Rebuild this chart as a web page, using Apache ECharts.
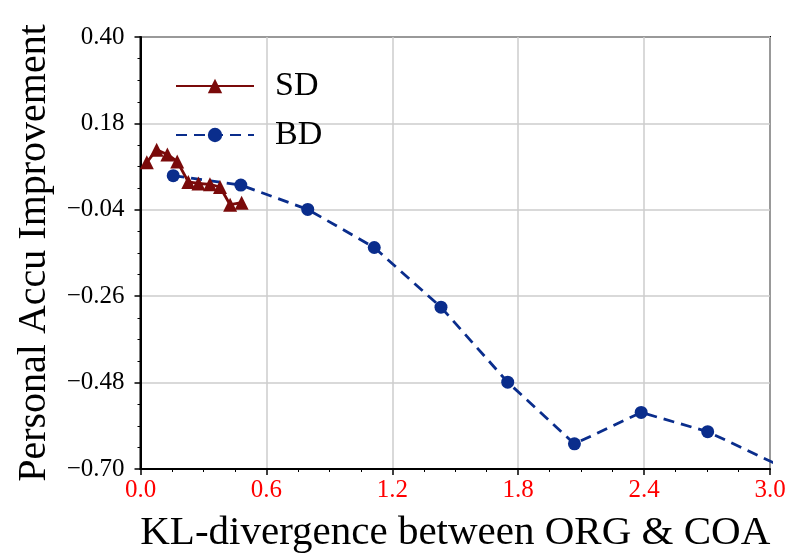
<!DOCTYPE html>
<html><head><meta charset="utf-8">
<script src="https://cdn.jsdelivr.net/npm/echarts@6/dist/echarts.min.js"></script>
<style>html,body{margin:0;padding:0;background:#fff}#c{width:789px;height:554px}</style>
</head><body><div id="c"></div>
<script>
const sdX = [0.03, 0.077, 0.128, 0.175, 0.228, 0.276, 0.331, 0.379, 0.427, 0.482];
const sdY = [0.081, 0.113, 0.101, 0.083, 0.031, 0.027, 0.025, 0.018, -0.027, -0.022];
const bdX = [0.156, 0.478, 0.797, 1.114, 1.432, 1.750, 2.068, 2.386, 2.703, 3.02];
const bdY = [0.047, 0.023, -0.039, -0.136, -0.288, -0.479, -0.636, -0.556, -0.605, -0.685];
const xTicks = [0.0, 0.6, 1.2, 1.8, 2.4, 3.0];
const yTicks = [-0.70, -0.48, -0.26, -0.04, 0.18, 0.40];

const serif = '"Liberation Serif", "DejaVu Serif", serif';
const chart = echarts.init(document.getElementById('c'));
chart.setOption({
  animation: false,
  backgroundColor: '#fff',
  grid: {left: 140.5, top: 37, right: 19, bottom: 85, containLabel: false, outerBoundsMode: 'none',
         show: true, borderColor: '#000', borderWidth: 2, backgroundColor: 'transparent'},
  legend: {
    orient: 'vertical', left: 170, top: 64, itemWidth: 78, itemHeight: 18, itemGap: 15,
    textStyle: {fontFamily: serif, fontSize: 34, color: '#000', padding: [0,0,0,16]},
    data: ['SD', 'BD']
  },
  xAxis: {
    type: 'value', min: xTicks[0], max: xTicks[xTicks.length-1], interval: 0.6,
    name: 'KL-divergence between ORG & COA', nameLocation: 'middle', nameGap: 44,
    nameTextStyle: {fontFamily: serif, fontSize: 41, color: '#000'},
    axisLine: {onZero: false, lineStyle: {color: '#000', width: 2}},
    axisTick: {show: true, length: 6, lineStyle: {color: '#000', width: 1.5}},
    minorTick: {show: true, splitNumber: 4, length: 3, lineStyle: {color: '#000', width: 1}},
    axisLabel: {fontFamily: serif, fontSize: 25, color: '#ff0000', margin: 9, formatter: v => v.toFixed(1)},
    splitLine: {show: true, lineStyle: {color: '#cccccc', width: 1.5}}
  },
  yAxis: {
    type: 'value', min: yTicks[0], max: yTicks[yTicks.length-1], interval: 0.22,
    name: 'Personal Accu Improvement', nameLocation: 'middle', nameGap: 86,
    nameTextStyle: {fontFamily: serif, fontSize: 40, color: '#000'},
    axisLine: {onZero: false, lineStyle: {color: '#000', width: 2}},
    axisTick: {show: true, length: 6, lineStyle: {color: '#000', width: 1.5}},
    minorTick: {show: true, splitNumber: 4, length: 3, lineStyle: {color: '#000', width: 1}},
    axisLabel: {fontFamily: serif, fontSize: 25, color: '#000', margin: 16, formatter: v => v.toFixed(2).replace('-', '\u2212')},
    splitLine: {show: true, lineStyle: {color: '#cccccc', width: 1.5}}
  },
  series: [
    {name: 'SD', type: 'line', data: sdX.map((x,i)=>[x, sdY[i]]), symbol: 'triangle', symbolSize: 14,
     itemStyle: {color: '#7a0a0a'}, lineStyle: {color: '#7a0a0a', width: 2.8}, z: 3},
    {name: 'BD', type: 'line', data: bdX.map((x,i)=>[x, bdY[i]]), symbol: 'circle', symbolSize: 13, clip: true,
     itemStyle: {color: '#0a2d8c'}, lineStyle: {color: '#0a2d8c', width: 2.8, type: [11, 7]}, z: 2}
  ]
});
</script></body></html>
